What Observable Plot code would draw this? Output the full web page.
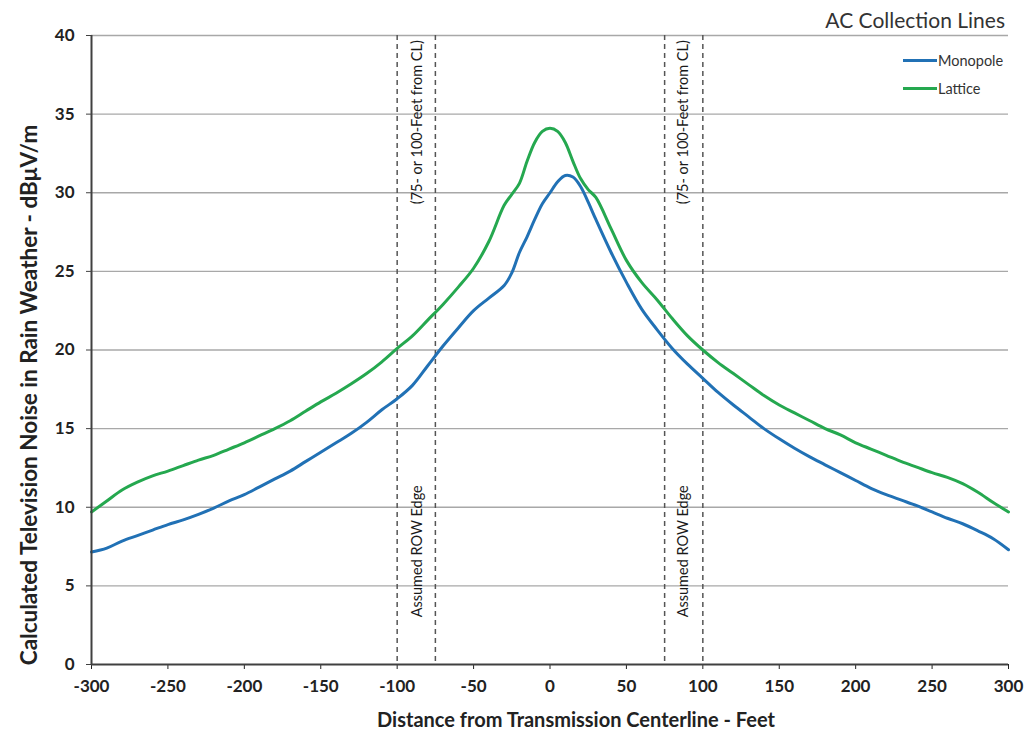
<!DOCTYPE html>
<html>
<head>
<meta charset="utf-8">
<script src="https://cdn.jsdelivr.net/npm/d3@7"></script>
<script src="https://cdn.jsdelivr.net/npm/@observablehq/plot@0.6"></script>
<style>
  html, body { margin: 0; padding: 0; background: #fff; }
  #wrap { position: relative; width: 1026px; height: 738px; font-family: Lato, "Open Sans", sans-serif; }
  #title { position: absolute; right: 21px; top: 7px; font-size: 21px; color: #333; }
  #legend { position: absolute; left: 903px; top: 46px; font-size: 14.5px; color: #333; }
  .item { display: flex; align-items: center; height: 28px; }
  .swatch { width: 34px; height: 3px; margin-right: 1px; }
</style>
</head>
<body>
<div id="wrap">
  <div id="chart"></div>
  <div id="title">AC Collection Lines</div>
  <div id="legend"></div>
</div>
<script>
// ---- data ----
const distance = [-300,-290,-280,-270,-260,-250,-240,-230,-220,-210,-200,-190,-180,-170,-160,-150,-140,-130,-120,-110,-100,-90,-80,-70,-60,-50,-40,-30,-25,-20,-15,-10,-5,0,5,10,15,20,25,30,40,50,60,70,80,90,100,110,120,130,140,150,160,170,180,190,200,210,220,230,240,250,260,270,280,290,300];
const monopole = [7.15,7.4,7.85,8.2,8.55,8.9,9.2,9.55,9.95,10.4,10.8,11.3,11.8,12.3,12.9,13.5,14.1,14.7,15.4,16.2,16.9,17.75,19.0,20.25,21.4,22.5,23.3,24.1,24.9,26.2,27.2,28.3,29.3,30.0,30.7,31.1,31.0,30.4,29.4,28.3,26.2,24.3,22.6,21.3,20.1,19.1,18.2,17.3,16.5,15.75,15.0,14.35,13.75,13.2,12.7,12.2,11.7,11.2,10.8,10.45,10.1,9.7,9.3,8.95,8.5,8.0,7.3];
const lattice = [9.7,10.4,11.1,11.6,12.0,12.3,12.65,13.0,13.3,13.7,14.1,14.55,15.0,15.5,16.1,16.7,17.25,17.85,18.5,19.25,20.1,20.9,21.9,22.9,24.0,25.2,26.9,29.2,29.9,30.6,32.0,33.2,33.9,34.1,33.9,33.2,32.0,30.9,30.2,29.7,27.7,25.7,24.3,23.2,22.0,20.9,20.0,19.2,18.5,17.8,17.1,16.5,16.0,15.5,15.0,14.6,14.1,13.7,13.3,12.9,12.55,12.2,11.9,11.5,10.95,10.3,9.7];
const seriesNames = ["Monopole", "Lattice"];
const seriesColors = ["#2171b5", "#25a84f"];
const xTicks = [-300,-250,-200,-150,-100,-50,0,50,100,150,200,250,300];
const yTicks = [0,5,10,15,20,25,30,35,40];
const rowEdges = [-100,-75,75,100];
const rowNoteX = [-86.5, 87];
const xLabel = "Distance from Transmission Centerline - Feet";
const yLabel = "Calculated Television Noise in Rain Weather - dBμV/m";

const rows = [];
distance.forEach((d, i) => {
  rows.push({x: d, y: monopole[i], s: seriesNames[0]});
  rows.push({x: d, y: lattice[i], s: seriesNames[1]});
});

const font = "Lato, 'Open Sans', sans-serif";
const chart = Plot.plot({
  width: 1026,
  height: 738,
  marginLeft: 91,
  marginRight: 18,
  marginTop: 35,
  marginBottom: 74,
  style: {fontFamily: font, background: "#fff"},
  x: {domain: [-300, 300]},
  y: {domain: [0, 40]},
  color: {domain: seriesNames, range: seriesColors},
  marks: [
    Plot.ruleY(yTicks.filter(d => d > 0), {stroke: "#a8a8a8", strokeWidth: 1.3}),
    Plot.ruleX(rowEdges, {stroke: "#555", strokeWidth: 1.5, strokeDasharray: "5,4"}),
    Plot.text(rowNoteX, {x: d => d, y: 39.7, text: () => "(75- or 100-Feet from CL)", rotate: -90, textAnchor: "end", fontSize: 14.5, fill: "#1a1a1a"}),
    Plot.text(rowNoteX, {x: d => d, y: 11.4, text: () => "Assumed ROW Edge", rotate: -90, textAnchor: "end", fontSize: 14.5, fill: "#1a1a1a"}),
    Plot.line(rows, {x: "x", y: "y", z: "s", stroke: "s", strokeWidth: 3, curve: "catmull-rom"}),
    Plot.axisY({ticks: yTicks, tickSize: 5, tickPadding: 12, fontSize: 17, fontWeight: "bold", label: null, stroke: "#404040", color: "#222"}),
    Plot.axisX({ticks: xTicks, tickSize: 5, tickPadding: 10, fontSize: 17, fontWeight: "bold", label: null, tickFormat: d => String(d), color: "#222"}),
    Plot.ruleY([0], {stroke: "#404040", strokeWidth: 2}),
    Plot.ruleX([-300], {stroke: "#404040", strokeWidth: 2}),
    Plot.text([xLabel], {frameAnchor: "bottom", dy: 62, dx: 26, fontSize: 20, fontWeight: "bold", fill: "#222"}),
    Plot.text([yLabel], {frameAnchor: "left", textAnchor: "middle", dx: -62, dy: 45, rotate: -90, fontSize: 22.5, fontWeight: "bold", fill: "#222"})
  ]
});
document.getElementById("chart").appendChild(chart);

const legend = document.getElementById("legend");
seriesNames.forEach((n, i) => {
  const it = document.createElement("div");
  it.className = "item";
  it.innerHTML = `<div class="swatch" style="background:${seriesColors[i]}"></div><span>${n}</span>`;
  legend.appendChild(it);
});
</script>
</body>
</html>
